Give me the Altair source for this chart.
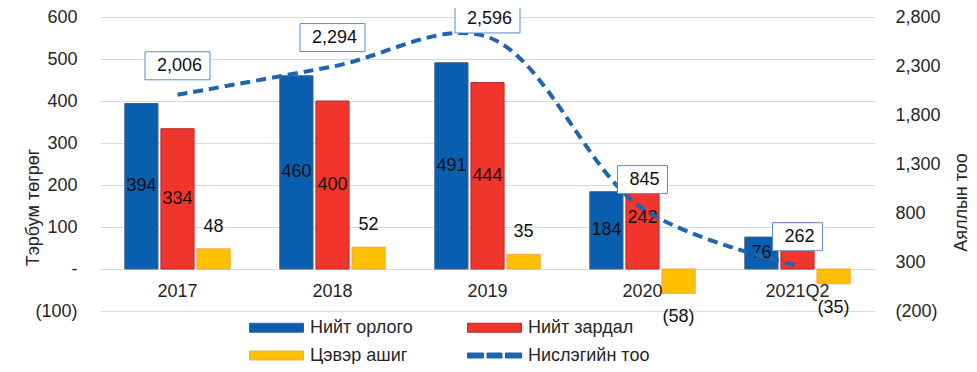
import altair as alt
import pandas as pd

categories = ["2017", "2018", "2019", "2020", "2021Q2"]
income = [394, 460, 491, 184, 76]
expense = [334, 400, 444, 242, 110]
profit = [48, 52, 35, -58, -35]
flights = [2006, 2294, 2596, 845, 262]
expense_label_shown = [True, True, True, True, False]

series_names = ["Нийт орлого", "Нийт зардал", "Цэвэр ашиг", "Нислэгийн тоо"]
fill_colors = ["#0A5EB0", "#F0352C", "#FFC000", "#1F64AE"]
edge_colors = ["#41608A", "#C0282A", "#F4A540", "#1F64AE"]

left_ticks = [-100, 0, 100, 200, 300, 400, 500, 600]
right_ticks = [-200, 300, 800, 1300, 1800, 2300, 2800]

FONT = "Liberation Sans"
TXT = "#262626"


def acc(v):
    return f"({abs(v):,})" if v < 0 else f"{v:,}"


rows = []
for i, c in enumerate(categories):
    rows.append(dict(cat=c, series=series_names[0], value=income[i], lbl=acc(income[i])))
    rows.append(dict(cat=c, series=series_names[1], value=expense[i],
                     lbl=acc(expense[i]) if expense_label_shown[i] else ""))
    rows.append(dict(cat=c, series=series_names[2], value=profit[i], lbl=acc(profit[i])))
bars_df = pd.DataFrame(rows)
line_df = pd.DataFrame(dict(cat=categories, flights=flights, lbl=[acc(v) for v in flights]))
cat_df = pd.DataFrame(dict(cat=categories))
legend_df = pd.DataFrame(dict(series=series_names))

X = alt.X("cat:N", sort=categories,
          scale=alt.Scale(domain=categories, paddingInner=0.32, paddingOuter=0.16), axis=None)
XOFF = alt.XOffset("series:N", sort=series_names[:3],
                   scale=alt.Scale(domain=series_names[:3], paddingInner=0.08))
LSCALE = alt.Scale(domain=[-100, 600], nice=False, zero=False)
RSCALE = alt.Scale(domain=[-200, 2800], nice=False, zero=False)
COLOR_SCALE = alt.Scale(domain=series_names, range=fill_colors)
STROKE_SCALE = alt.Scale(domain=series_names, range=edge_colors)

acc_expr = ("datum.value < 0 ? '(' + format(-datum.value, ',') + ')' : "
            "(datum.value == 0 ? '-\u2007\u2007\u2007' : format(datum.value, ','))")

left_axis = alt.Axis(orient="left", values=left_ticks, labelExpr=acc_expr, grid=True,
                     gridColor="#D9D9D9", gridWidth=1, domain=False, ticks=False,
                     labelPadding=23, labelFont=FONT, labelFontSize=18, labelColor=TXT,
                     title="Тэрбум төгрөг", titleFont=FONT, titleFontSize=18,
                     titleFontWeight="normal", titleColor=TXT, titleX=-67, titleY=190,
                     titleAngle=270, titleAlign="center", titleBaseline="middle")
right_axis = alt.Axis(orient="right", values=right_ticks, labelExpr=acc_expr, grid=False,
                      domain=False, ticks=False, labelPadding=20,
                      labelFont=FONT, labelFontSize=18, labelColor=TXT,
                      title="Аяллын тоо", titleFont=FONT, titleFontSize=18,
                      titleFontWeight="normal", titleColor=TXT, titleX=86, titleY=185,
                      titleAngle=270, titleAlign="center", titleBaseline="middle")

bars = alt.Chart(bars_df).mark_bar(strokeWidth=1).encode(
    x=X, xOffset=XOFF,
    y=alt.Y("value:Q", scale=LSCALE, axis=left_axis),
    color=alt.Color("series:N", scale=COLOR_SCALE, legend=None),
    stroke=alt.Stroke("series:N", scale=STROKE_SCALE, legend=None),
)

mid_labels = alt.Chart(bars_df).transform_filter(
    f"datum.series != '{series_names[2]}'"
).transform_calculate(mid="datum.value / 2").mark_text(
    font=FONT, fontSize=18, color="#111111", baseline="middle"
).encode(x=X, xOffset=XOFF, y=alt.Y("mid:Q", scale=LSCALE, axis=None), text="lbl:N")

pos_labels = alt.Chart(bars_df).transform_filter(
    f"datum.series == '{series_names[2]}' && datum.value >= 0"
).mark_text(font=FONT, fontSize=18, color="#111111", baseline="middle", dy=-22).encode(
    x=X, xOffset=XOFF, y=alt.Y("value:Q", scale=LSCALE, axis=None), text="lbl:N")

neg_labels = alt.Chart(bars_df).transform_filter(
    f"datum.series == '{series_names[2]}' && datum.value < 0"
).mark_text(font=FONT, fontSize=18, color="#111111", baseline="middle", dy=24).encode(
    x=X, xOffset=XOFF, y=alt.Y("value:Q", scale=LSCALE, axis=None), text="lbl:N")

cat_labels = alt.Chart(cat_df).mark_text(
    font=FONT, fontSize=18, color=TXT, baseline="middle", dy=23
).encode(x=X, y=alt.Y(datum=0, scale=LSCALE, axis=None), text="cat:N")

# legend swatches: nominal symbol 20px, drawn 54px wide
bar_path = "M-2.7,-0.45L2.7,-0.45L2.7,0.45L-2.7,0.45Z"
dash_path = ("M-2.7,-0.25L-1.1,-0.25L-1.1,0.25L-2.7,0.25Z "
             "M-0.75,-0.25L0.75,-0.25L0.75,0.25L-0.75,0.25Z "
             "M1.1,-0.25L2.7,-0.25L2.7,0.25L1.1,0.25Z")
LEG = alt.Legend(title=None, orient="none", legendX=166, legendY=300, columns=2,
                 direction="horizontal", columnPadding=52, rowPadding=8, symbolSize=400,
                 symbolStrokeWidth=1, labelFont=FONT, labelFontSize=18, labelColor=TXT,
                 labelOffset=23, symbolOpacity=1)
legend_layer = alt.Chart(legend_df).mark_point(
    filled=True, opacity=1, clip=True, strokeWidth=1
).encode(
    x=alt.value(0), y=alt.value(-500),
    color=alt.Color("series:N", scale=COLOR_SCALE, legend=LEG),
    stroke=alt.Stroke("series:N", scale=STROKE_SCALE, legend=LEG),
    shape=alt.Shape("series:N", scale=alt.Scale(domain=series_names,
                                                range=[bar_path, bar_path, bar_path, dash_path]),
                    legend=LEG),
)

line = alt.Chart(line_df).mark_line(
    interpolate="catmull-rom", strokeDash=[10, 6], strokeWidth=4, color="#1F64AE"
).encode(x=X, y=alt.Y("flights:Q", scale=RSCALE, axis=right_axis))

# label boxes sit ~29px above each point, but are held inside the chart frame at the top
box_calc = "min(datum.flights + 296, 2780)"
wide_box = "M-1,-0.431L1,-0.431L1,0.431L-1,0.431Z"
narrow_box = "M-1,-0.56L1,-0.56L1,0.56L-1,0.56Z"
boxes_wide = alt.Chart(line_df).transform_filter("length(datum.lbl) > 3").transform_calculate(
    by=box_calc).mark_point(
    shape=wide_box, size=4225, filled=True, fill="white", stroke="#5B8BD0",
    strokeWidth=1, opacity=1
).encode(x=X, y=alt.Y("by:Q", scale=RSCALE, axis=None))
boxes_narrow = alt.Chart(line_df).transform_filter("length(datum.lbl) <= 3").transform_calculate(
    by=box_calc).mark_point(
    shape=narrow_box, size=2500, filled=True, fill="white", stroke="#5B8BD0",
    strokeWidth=1, opacity=1
).encode(x=X, y=alt.Y("by:Q", scale=RSCALE, axis=None))
box_text = alt.Chart(line_df).transform_calculate(by=box_calc).mark_text(
    font=FONT, fontSize=18, color="#111111", baseline="middle", dx=2
).encode(x=X, y=alt.Y("by:Q", scale=RSCALE, axis=None), text="lbl:N")

chart = alt.layer(
    bars, mid_labels, pos_labels, neg_labels, cat_labels, legend_layer,
    line, boxes_wide, boxes_narrow, box_text
).resolve_scale(y="independent").resolve_legend(
    color="independent", stroke="independent", shape="independent"
).properties(
    width=775, height=294,
    autosize=alt.AutoSizeParams(type="none"),
    padding={"left": 92, "top": 9, "right": 94, "bottom": 53},
    background="white",
).configure_view(stroke=None)

chart.save("out.html", embed_options={"renderer": "svg", "actions": False})
